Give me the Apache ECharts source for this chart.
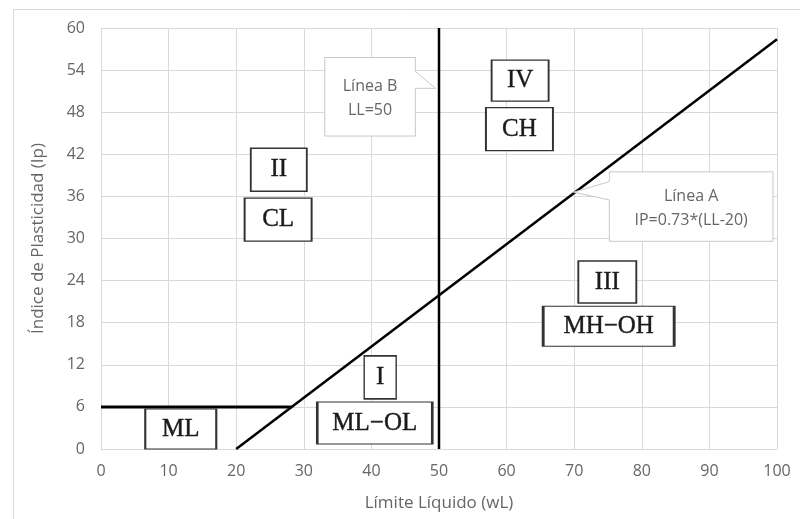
<!DOCTYPE html>
<html>
<head>
<meta charset="utf-8">
<script src="https://cdn.jsdelivr.net/npm/echarts@6/dist/echarts.min.js"></script>
<style>html,body{margin:0;padding:0;background:#fff;}#c{width:800px;height:519px;}</style>
</head>
<body>
<div id="c"></div>
<script>
// ---- data ----
const xTicks = [0,10,20,30,40,50,60,70,80,90,100];
const yTicks = [0,6,12,18,24,30,36,42,48,54,60];
const lineA = [[20,0],[100,58.4]];      // IP = 0.73*(LL-20)
const lineB = [[50,0],[50,60]];         // LL = 50
const lineML = [[0,6],[28.2,6]];        // IP = 6
const zoneNames = ['II','CL','IV','CH','III','MH\u2212OH','ML','I','ML\u2212OL'];
const zoneAt = [[26.3,39.8],[26.2,32.7],[62.0,52.5],[61.9,45.6],[74.9,23.8],[75.1,17.5],[11.8,2.85],[41.3,10.2],[40.5,3.7]];
const calloutTexts = ['Línea B\nLL=50','Línea A\nIP=0.73*(LL-20)'];
// callout geometry in data units: [xLeft, yTop, xRight, yBottom, tipX, tipY, wedgeY1, wedgeY2, side(1=right,0=left)]
const calloutAt = [[33.1,55.8,46.5,44.6,49.5,51.4,53.8,51.4,1],[75.2,39.5,99.4,29.6,69.9,36.6,38.1,35.5,0]];

// ---- styles ----
const zoneBox = [[56,43],[67,43],[57,41],[67,43],[58,42],[131,40],[71,40],[32,43],[115,42]];

const chart = echarts.init(document.getElementById('c'), null, {renderer:'canvas'});
const lineStyle = w => ({color:'#000', width:w});

chart.setOption({
  animation:false,
  graphic:[{type:'rect', left:11, top:7, shape:{width:820, height:540}, style:{fill:'none', stroke:'#d9d9d9', lineWidth:1}, z:-10}],
  grid:{left:101, right:23, top:28, bottom:70, containLabel:false},
  xAxis:{type:'value', min:0, max:100, interval:10,
    name:'Límite Líquido (wL)', nameLocation:'middle', nameGap:46,
    nameTextStyle:{color:'#666', fontFamily:'Open Sans', fontSize:17},
    axisLine:{show:false}, axisTick:{show:false},
    axisLabel:{color:'#666', fontFamily:'Open Sans', fontSize:16, margin:14},
    splitLine:{show:true, lineStyle:{color:'#d9d9d9', width:1}}},
  yAxis:{type:'value', min:0, max:60, interval:6,
    name:'Índice de Plasticidad (Ip)', nameLocation:'middle', nameGap:54,
    nameTextStyle:{color:'#666', fontFamily:'Open Sans', fontSize:17},
    axisLine:{show:false}, axisTick:{show:false},
    axisLabel:{color:'#666', fontFamily:'Open Sans', fontSize:16, margin:16},
    splitLine:{show:true, lineStyle:{color:'#d9d9d9', width:1}}},
  series:[
    {type:'line', data:lineA, symbol:'none', lineStyle:lineStyle(2.5), z:3, silent:true},
    {type:'line', data:lineB, symbol:'none', lineStyle:lineStyle(2.5), z:3, silent:true},
    {type:'line', data:lineML, symbol:'none', lineStyle:lineStyle(3), z:3, silent:true},
    {type:'custom', clip:false, z:4, silent:true,
      data:calloutAt.map((c,i)=>c.concat([i])),
      renderItem:function(params, api){
        const p = k => api.value(k);
        const tl = api.coord([p(0),p(1)]), br = api.coord([p(2),p(3)]);
        const tip = api.coord([p(4),p(5)]);
        const w1 = api.coord([0,p(6)])[1], w2 = api.coord([0,p(7)])[1];
        let pts;
        if (p(8) === 1) {
          pts = [[tl[0],tl[1]],[br[0],tl[1]],[br[0],w1],tip,[br[0],w2],[br[0],br[1]],[tl[0],br[1]]];
        } else {
          pts = [[tl[0],tl[1]],[br[0],tl[1]],[br[0],br[1]],[tl[0],br[1]],[tl[0],w2],tip,[tl[0],w1]];
        }
        return {type:'group', children:[
          {type:'polygon', shape:{points:pts}, style:{fill:'#fff', stroke:'#c8c8c8', lineWidth:1}},
          {type:'text', style:{text:calloutTexts[p(9)], x:(tl[0]+br[0])/2, y:(tl[1]+br[1])/2+2,
            align:'center', verticalAlign:'middle', fill:'#666', font:'16px "Open Sans"', lineHeight:24}}
        ]};
      }},
    {type:'scatter', z:5, silent:true,
      data:zoneAt.map((p,i)=>({value:p, name:zoneNames[i], symbolSize:zoneBox[i]})),
      symbol:'rect',
      itemStyle:{color:'#fff', borderColor:'#333', borderWidth:1.6, opacity:1},
      label:{show:true, position:'inside', formatter:'{b}', color:'#1a1a1a', fontFamily:'Liberation Serif', fontSize:25,
        textBorderColor:'#1a1a1a', textBorderWidth:0.4}}
  ]
});
</script>
</body>
</html>
